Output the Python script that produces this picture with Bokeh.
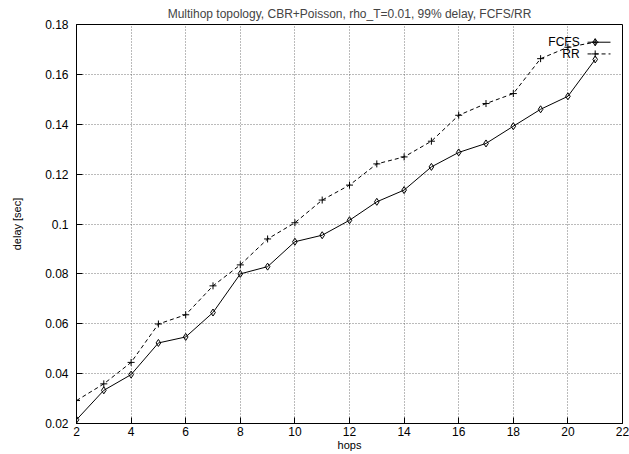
from bokeh.plotting import figure
from bokeh.embed import file_html
from bokeh.resources import INLINE
from bokeh.models import FixedTicker

# ---- data ----
hops = [2, 3, 4, 5, 6, 7, 8, 9, 10, 11, 12, 13, 14, 15, 16, 17, 18, 19, 20, 21]
fcfs = [0.0215, 0.0333, 0.0396, 0.0523, 0.0547, 0.0645, 0.0800, 0.0829, 0.0929, 0.0955,
        0.1015, 0.1089, 0.1136, 0.1229, 0.1287, 0.1323, 0.1392, 0.1460, 0.1512, 0.1660]
rr = [0.0292, 0.0359, 0.0445, 0.0599, 0.0636, 0.0752, 0.0836, 0.0940, 0.1005, 0.1096,
      0.1156, 0.1241, 0.1269, 0.1332, 0.1436, 0.1483, 0.1523, 0.1663, 0.1709, 0.1729]
x_ticks = [2, 4, 6, 8, 10, 12, 14, 16, 18, 20, 22]
y_ticks = [0.02, 0.04, 0.06, 0.08, 0.1, 0.12, 0.14, 0.16, 0.18]
y_tick_labels = ["0.02", "0.04", "0.06", "0.08", "0.1", "0.12", "0.14", "0.16", "0.18"]
series_names = ["FCFS", "RR"]
title_text = "Multihop topology, CBR+Poisson, rho_T=0.01, 99% delay, FCFS/RR"

FONT = "Liberation Sans"

p = figure(width=629, height=454, x_range=(2, 22), y_range=(0.02, 0.18),
           output_backend="svg", toolbar_location=None,
           min_border_left=76, min_border_right=7, min_border_top=4, min_border_bottom=31)

p.title.text = title_text
p.title.align = "center"
p.title.text_font = FONT
p.title.text_font_size = "12px"
p.title.text_font_style = "normal"
p.title.standoff = 8

p.outline_line_color = "black"
p.outline_line_width = 1
p.outline_line_alpha = 1

for ax in (p.xaxis[0], p.yaxis[0]):
    ax.major_tick_in = 6
    ax.major_tick_out = 0
    ax.minor_tick_line_color = None
    ax.axis_line_color = "black"
    ax.major_tick_line_color = "black"
    ax.major_label_text_font = FONT
    ax.major_label_text_font_size = "12px"
    ax.major_label_text_color = "black"
    ax.axis_label_text_font = FONT
    ax.axis_label_text_font_size = "11px"
    ax.axis_label_text_font_style = "normal"
    ax.axis_label_text_color = "black"

p.xaxis.ticker = FixedTicker(ticks=x_ticks)
p.yaxis.ticker = FixedTicker(ticks=y_ticks)
p.yaxis.major_label_overrides = {t: l for t, l in zip(y_ticks, y_tick_labels)}
p.xaxis.axis_label = "hops"
p.yaxis.axis_label = "delay [sec]"
p.xaxis.major_label_standoff = 3
p.xaxis.axis_label_standoff = 0
p.yaxis.major_label_standoff = 8
p.yaxis.axis_label_standoff = 19

p.grid.grid_line_color = "#555555"
p.grid.grid_line_alpha = 0.8
p.grid.grid_line_dash = "1 2"
p.grid.grid_line_width = 1

# data lines
p.line(hops, fcfs, line_color="black", line_width=1)
p.scatter(hops, fcfs, marker="diamond", size=7, fill_color=None, line_color="black", line_width=1)
p.line(hops, rr, line_color="black", line_width=1, line_dash="4 3")
p.scatter(hops, rr, marker="cross", size=7, line_color="black", line_width=1)

# gnuplot-style legend (label left, sample right), layout positions
leg_text_x = 20.43
leg_x0, leg_xm, leg_x1 = 20.72, 21.0, 21.56
leg_y = [0.1729, 0.1682]
p.text([leg_text_x] * 2, leg_y, text=series_names, text_align="right", text_baseline="middle",
       text_font={"value": FONT}, text_font_size="12px", text_color="black")
p.line([leg_x0, leg_x1], [leg_y[0]] * 2, line_color="black", line_width=1)
p.scatter([leg_xm], [leg_y[0]], marker="diamond", size=7, fill_color=None, line_color="black")
p.line([leg_x0, leg_x1], [leg_y[1]] * 2, line_color="black", line_width=1, line_dash="4 3")
p.scatter([leg_xm], [leg_y[1]], marker="cross", size=7, line_color="black")

open("out.html", "w").write(file_html(p, INLINE))
